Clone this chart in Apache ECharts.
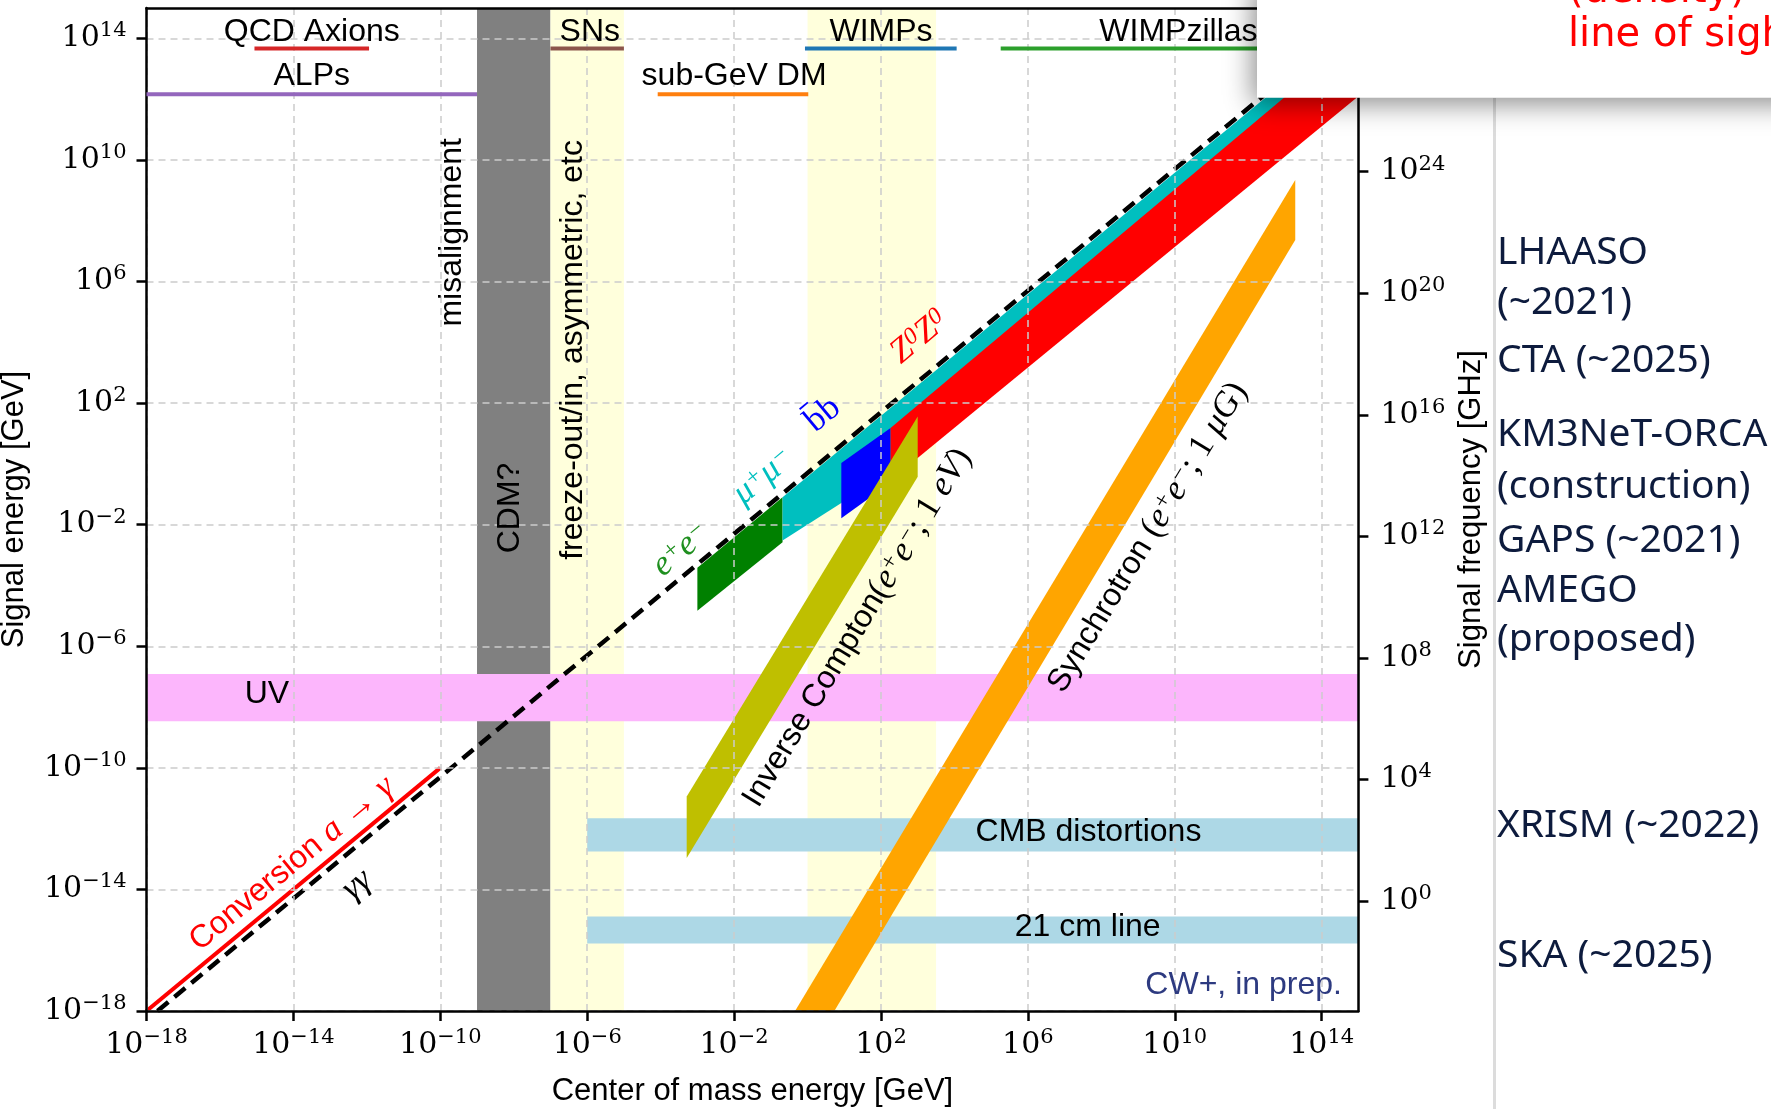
<!DOCTYPE html>
<html>
<head>
<meta charset="utf-8">
<script src="https://cdn.jsdelivr.net/npm/echarts@6/dist/echarts.min.js"></script>
<style>
html, body { margin: 0; padding: 0; background: #fff; }
#chart { width: 1771px; height: 1109px; }
</style>
</head>
<body>
<div id="chart"></div>
<script>
// all chart values are log10 exponents (GeV)
const xTicks = [-18, -14, -10, -6, -2, 2, 6, 10, 14];
const yTicks = [-18, -14, -10, -6, -2, 2, 6, 10, 14];
const freqTicks = [0, 4, 8, 12, 16, 20, 24, 28];
const freqShift = 14.3835;            // log10(GHz per GeV)

// vertical spans [x0, x1]
const cdmSpan = [-9, -7];
const yellowSpans = [[-7, -5], [0, 3.5]];

// horizontal bands [x0, x1, y0, y1]
const uvBand = [-18, 15, -8.47, -6.91];
const cmbBand = [-6, 15, -12.75, -11.66];
const cm21Band = [-6, 15, -15.78, -14.89];

// annihilation / emission regions (polygon vertices)
const eePoly = [[-3, -3.42], [-0.68, -1.1], [-0.68, -2.58], [-3, -4.83]];
const mumuPoly = [[-0.68, -1.1], [15, 14.58], [15, 12.3], [0.92, -1.29], [-0.68, -2.52]];
const bbPoly = [[0.92, 0.03], [2.26, 1.18], [2.26, -0.62], [0.92, -1.79]];
const zzPoly = [[2.26, 1.18], [15, 14.1], [15, 12.1], [2.26, -0.54]];
const icPoly = [[-3.29, -10.94], [3, 1.56], [3, -0.42], [-3.29, -12.97]];
const synPoly = [[-0.34, -18], [13.28, 9.34], [13.28, 7.37], [0.73, -18]];

// lines
const conversionLine = [[-18, -18], [-10, -10]];
const gammaGammaLine = [[-17.7, -18], [15, 14.7]];

// dark matter candidate mass ranges
const rangeNames = ['QCD Axions', 'ALPs', 'SNs', 'sub-GeV DM', 'WIMPs', 'WIMPzillas'];
const rangeSpans = [[-15.06, -11.94], [-18, -9], [-7, -5], [-4.08, 0.02], [-0.07, 4.06], [5.26, 15]];
const rangeLevels = [13.67, 12.16, 13.67, 12.16, 13.67, 13.67];
const rangeLabelPos = [[-13.5, 14.21], [-13.5, 12.76], [-5.93, 14.21], [-2.0, 12.76], [2.0, 14.21], [10.1, 14.21]];
const rangeColors = ['#d62728', '#9467bd', '#8c564b', '#ff7f0e', '#1f77b4', '#2ca02c'];

// plain labels
const plainText = ['misalignment', 'CDM?', 'freeze-out/in, asymmetric, etc', 'UV', 'CMB distortions', '21 cm line'];
const plainPos = [[-9.68, 7.62], [-8.1, -1.45], [-6.38, 3.75], [-14.72, -7.57], [7.65, -12.1], [7.63, -15.23]];
const plainRot = [90, 90, 90, 0, 0, 0];

// channel labels (rotated along the bands)
const channelText = [
    '{t|Conversion }{m|a }{p|→ }{m|γ}',
    '{m|γγ}',
    '{m|e}{u|+}{m|e}{u|−}',
    '{m|μ}{u|+}{m|μ}{u|−}',
    '{p|b\u0304b}',
    '{m|Z}{u|0}{m|Z}{u|0}',
    '{t|Inverse Compton}{p|(}{m|e}{u|+}{m|e}{u|−}{p|; 1 }{m|eV}{p|)}',
    '{t|Synchrotron }{p|(}{m|e}{u|+}{m|e}{u|−}{p|; 1 }{m|μG}{p|)}'
];
const channelPos = [[-14.04, -13.16], [-12.27, -13.85], [-3.44, -2.83], [-1.2, -0.42], [0.42, 1.62], [3.04, 4.16], [1.35, -5.39], [9.26, -2.42]];
const channelSlope = [1, 1, 1, 1, 1, 1, 2, 2];
const channelColor = ['#ff0000', '#000000', '#1f8f1f', '#00bfbf', '#0000ff', '#ff0000', '#000000', '#000000'];

// experiments listed on the right
const instruments = ['LHAASO', '(~2021)', 'CTA (~2025)', 'KM3NeT-ORCA', '(construction)', 'GAPS (~2021)', 'AMEGO', '(proposed)', 'XRISM (~2022)', 'SKA (~2025)'];
const instrumentY = [253, 303, 361, 435, 487, 541, 591, 640, 826, 956];

const sans = "'Liberation Sans', Arial, sans-serif";
const serif = "'Liberation Serif', 'DejaVu Serif', serif";
const tickSerif = "'DejaVu Serif', serif";
const handFont = "'Comic Sans MS', 'DejaVu Sans', sans-serif";

const chart = echarts.init(document.getElementById('chart'));

function expLabel(v) {
    const e = Math.round(v);
    return '{b|10}{s|' + (e < 0 ? '\u2212' + (-e) : e) + '}';
}
const tickRich = {
    b: { fontFamily: tickSerif, fontSize: 30, lineHeight: 36, color: '#000' },
    s: { fontFamily: tickSerif, fontSize: 21, lineHeight: 20, color: '#000', verticalAlign: 'top' }
};
const mathRich = {
    t: { fontFamily: sans, fontSize: 32 },
    m: { fontFamily: serif, fontStyle: 'italic', fontSize: 35 },
    p: { fontFamily: serif, fontSize: 35 },
    u: { fontFamily: serif, fontStyle: 'italic', fontSize: 24, verticalAlign: 'top' }
};

function rectPoints(x0, x1, y0, y1) {
    return [[x0, y0], [x1, y0], [x1, y1], [x0, y1]];
}

function polySeries(points, color, z) {
    return {
        type: 'custom', z: z, silent: true,
        data: [points[0]],
        renderItem: function (params, api) {
            return {
                type: 'polygon',
                shape: { points: points.map(p => api.coord(p)) },
                style: { fill: color }
            };
        }
    };
}

function lineSeries(points, style, z) {
    return {
        type: 'line', data: points, symbol: 'none', silent: true, z: z,
        lineStyle: style
    };
}

// collect text labels
const labels = [];
rangeNames.forEach((t, i) => labels.push({ text: t, pos: rangeLabelPos[i], rot: 0, color: '#000', size: 32 }));
plainText.forEach((t, i) => labels.push({ text: t, pos: plainPos[i], rot: plainRot[i], color: '#000', size: 32 }));
channelText.forEach((t, i) => labels.push({ text: t, pos: channelPos[i], slope: channelSlope[i], color: channelColor[i], size: 32 }));
labels.push({ text: 'CW+, in prep.', pos: [14.55, -17.14], rot: 0, color: '#2d3a80', size: 32, align: 'right',
    font: "'Liberation Sans Narrow', 'Liberation Sans', sans-serif" });

const series = [];
series.push(polySeries(rectPoints(cdmSpan[0], cdmSpan[1], -18, 15), '#808080', 1));
yellowSpans.forEach(s => series.push(polySeries(rectPoints(s[0], s[1], -18, 15), '#ffffdc', 1)));
series.push(polySeries(rectPoints(uvBand[0], uvBand[1], uvBand[2], uvBand[3]), '#fcb6fc', 1));
series.push(polySeries(rectPoints(cmbBand[0], cmbBand[1], cmbBand[2], cmbBand[3]), '#add8e6', 1));
series.push(polySeries(rectPoints(cm21Band[0], cm21Band[1], cm21Band[2], cm21Band[3]), '#add8e6', 1));
series.push(polySeries(eePoly, '#008000', 2));
series.push(polySeries(mumuPoly, '#00bfbf', 2));
series.push(polySeries(bbPoly, '#0000ff', 2));
series.push(polySeries(zzPoly, '#ff0000', 2));
series.push(polySeries(icPoly, '#bfbf00', 2));
series.push(polySeries(synPoly, '#ffa500', 2));
series.push(lineSeries(conversionLine, { color: '#ff0000', width: 4 }, 3));
series.push(lineSeries(gammaGammaLine, { color: '#000', width: 4.5, type: [14, 8] }, 3));
rangeSpans.forEach((s, i) => series.push(lineSeries([[s[0], rangeLevels[i]], [s[1], rangeLevels[i]]],
    { color: rangeColors[i], width: 4 }, 6)));
series.push({
    type: 'custom', z: 7, silent: true,
    data: labels.map(l => l.pos),
    renderItem: function (params, api) {
        const l = labels[params.dataIndex];
        const p = api.coord([api.value(0), api.value(1)]);
        let rot = (l.rot || 0) * Math.PI / 180;
        if (l.slope) {
            const q = api.coord([api.value(0) + 1, api.value(1) + l.slope]);
            rot = Math.atan2(p[1] - q[1], q[0] - p[0]);
        }
        return {
            type: 'text', x: p[0], y: p[1], rotation: rot,
            style: {
                text: l.text, rich: mathRich, fill: l.color,
                fontFamily: l.font || sans, fontSize: l.size,
                align: l.align || 'center', verticalAlign: 'middle'
            }
        };
    }
});

const graphic = [
    { type: 'line', z: 90, shape: { x1: 1494.5, y1: 98, x2: 1494.5, y2: 1109 }, style: { stroke: '#dcdcdc', lineWidth: 3 } },
    {
        type: 'rect', z: 100, shape: { x: 1257, y: -20, width: 600, height: 117.7 },
        style: { fill: '#fff', shadowBlur: 26, shadowColor: 'rgba(0,0,0,0.45)', shadowOffsetX: -4, shadowOffsetY: 6 }
    },
    { type: 'text', z: 101, x: 1568, y: -8, style: { text: '(density)', fill: '#ff0000', fontFamily: handFont, fontSize: 40, verticalAlign: 'middle' } },
    { type: 'text', z: 101, x: 1568, y: 36, style: { text: 'line of sight', fill: '#ff0000', fontFamily: handFont, fontSize: 40, verticalAlign: 'middle' } }
];
instruments.forEach((t, i) => graphic.push({
    type: 'text', z: 101, x: 1497, y: instrumentY[i],
    style: { text: t, fill: '#0d1b3d', fontFamily: "'Noto Sans', sans-serif", fontSize: 39, verticalAlign: 'middle' }
}));

const axisLine = { onZero: false, lineStyle: { color: '#000', width: 2.5 } };
const tickStyle = { length: 10, lineStyle: { color: '#000', width: 2.5 } };
const gridStyle = { show: true, lineStyle: { type: [7, 5], color: '#cccccc', width: 1.5 } };
const nameStyle = { fontFamily: sans, fontSize: 31, color: '#000' };

chart.setOption({
    animation: false,
    backgroundColor: '#fff',
    textStyle: { fontFamily: sans },
    grid: { left: 146.5, right: 412.6, top: 8, bottom: 98, containLabel: false, outerBoundsMode: 'none' },
    xAxis: [{
        type: 'value', min: -18, max: 15, interval: 4, z: 5,
        name: 'Center of mass energy [GeV]', nameLocation: 'middle', nameGap: 65, nameTextStyle: nameStyle,
        axisLine: axisLine,
        axisTick: Object.assign({ customValues: xTicks }, tickStyle),
        axisLabel: { margin: 16, customValues: xTicks, formatter: expLabel, rich: tickRich },
        splitLine: gridStyle
    }, {
        type: 'value', min: -18, max: 15, position: 'top', z: 5,
        axisLine: axisLine, axisTick: { show: false }, axisLabel: { show: false }, splitLine: { show: false }
    }],
    yAxis: [{
        type: 'value', min: -18, max: 15, interval: 4, z: 5,
        name: 'Signal energy [GeV]', nameLocation: 'middle', nameRotate: 90, nameGap: 117, nameTextStyle: nameStyle,
        axisLine: axisLine,
        axisTick: Object.assign({ customValues: yTicks }, tickStyle),
        axisLabel: { margin: 20, customValues: yTicks, formatter: expLabel, rich: tickRich },
        splitLine: gridStyle
    }, {
        type: 'value', min: -18 + freqShift, max: 15 + freqShift, position: 'right', z: 5,
        name: 'Signal frequency [GHz]', nameLocation: 'middle', nameRotate: 90, nameGap: 93, nameTextStyle: nameStyle,
        axisLine: axisLine,
        axisTick: Object.assign({ customValues: freqTicks }, tickStyle),
        axisLabel: { margin: 22, customValues: freqTicks, formatter: expLabel, rich: tickRich },
        splitLine: { show: false }
    }],
    series: series,
    graphic: graphic
});
</script>
</body>
</html>
